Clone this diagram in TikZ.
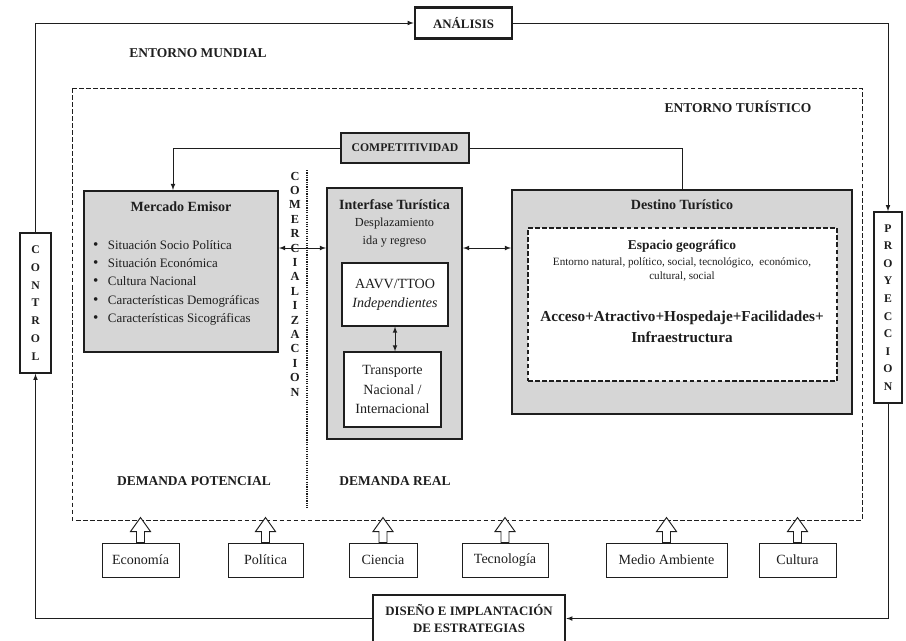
\documentclass[tikz,border=0pt]{standalone}
\usepackage{fontspec}
\setmainfont{Liberation Serif}
\definecolor{panelgray}{RGB}{214,214,214}
\definecolor{ink}{RGB}{30,30,30}
\newcommand{\bul}{{\fontsize{13}{13}\selectfont\textbullet}\hspace{8pt}}
\begin{document}
\begin{tikzpicture}[x=0.03cm, y=-0.03cm, >=latex, draw=ink, text=ink,
	lbl/.style={font=\fontsize{11.5}{13}\selectfont\bfseries, inner sep=0pt},
	ttl/.style={font=\fontsize{12}{14}\selectfont\bfseries, inner sep=0pt},
	frame/.style={draw, line width=2.2pt, fill=white, inner sep=0pt, align=center},
	vbox/.style={draw, line width=1.4pt, fill=white, inner sep=0pt, align=center, font=\fontsize{10}{15.2}\selectfont\bfseries},
	panel/.style={draw, line width=1.7pt, fill=panelgray, inner sep=0pt},
	wbox/.style={draw, line width=1.1pt, fill=white, inner sep=0pt, align=center, font=\fontsize{12}{16.4}\selectfont},
	fbox/.style={draw, line width=0.8pt, fill=white, inner sep=0pt, minimum height=1.02cm, font=\fontsize{12}{14}\selectfont},
	longdash/.style={dash pattern=on 4pt off 2pt},
	link/.style={line width=0.8pt}]
	\useasboundingbox (0,0) rectangle (906,640);
	
	%Kreislauf aussen
	\node[frame, font=\fontsize{11}{13}\selectfont\bfseries, minimum width=2.91cm, minimum height=0.93cm] (analisis) at (463.5,23) {ANÁLISIS};
	\node[vbox, minimum width=0.93cm, minimum height=4.2cm] (control) at (35.5,303) {C\\O\\N\\T\\R\\O\\L};
	\node[vbox, minimum width=0.84cm, minimum height=5.73cm, font=\fontsize{10}{15}\selectfont\bfseries] (proyeccion) at (888,307.5) {P\\R\\O\\Y\\E\\C\\C\\I\\O\\N};
	\node[frame, font=\fontsize{11}{14.5}\selectfont\bfseries, minimum width=5.76cm, minimum height=1.41cm] (diseno) at (469,618.5) {DISEÑO E IMPLANTACIÓN\\DE ESTRATEGIAS};
	
	\draw[link, ->] (control.north) |- (analisis.west);
	\draw[link, ->] (analisis.east) -| (proyeccion.north);
	\draw[link, ->] (proyeccion.south) |- (diseno.east);
	\draw[link, ->] (diseno.west) -| (control.south);
	
	\node[lbl] (mundial) at (198,53) {ENTORNO MUNDIAL};
	
	%Entorno turistico
	\draw[line width=0.8pt, longdash] (72,88) rectangle (862,520);
	\node[lbl] (turistico) at (738,107) {ENTORNO TURÍSTICO};
	
	\node[panel, line width=2pt, minimum width=3.84cm, minimum height=0.9cm, font=\fontsize{10}{12}\selectfont\bfseries] (competitividad) at (405,148) {COMPETITIVIDAD};
	
	\node[panel, minimum width=5.82cm, minimum height=4.83cm] (mercado) at (181,271.5) {};
	\node[panel, minimum width=4.05cm, minimum height=7.53cm] (interfase) at (394.5,313.5) {};
	\node[panel, minimum width=10.2cm, minimum height=6.72cm] (destino) at (682,302) {};
	
	\draw[link, ->] (competitividad.west) -| ([xshift=-0.24cm]mercado.north);
	\draw[link] (competitividad.east) -| (destino.north);
	
	%Mercado Emisor
	\node[ttl] (mtitle) at (181,207) {Mercado Emisor};
	\node[anchor=north west, inner sep=0pt, align=left, font=\fontsize{11}{15.7}\selectfont] (mlist) at (93,240) {%
		\bul Situación Socio Política\\
		\bul Situación Económica\\
		\bul Cultura Nacional\\
		\bul Características Demográficas\\
		\bul Características Sicográficas};
	
	%Comercializacion
	\draw[line width=1pt, densely dotted] (307,170) -- (307,508);
	\node[inner sep=0pt, align=center, font=\fontsize{10.5}{12.3}\selectfont\bfseries] (comer) at (295,284) {C\\O\\M\\E\\R\\C\\I\\A\\L\\I\\Z\\A\\C\\I\\O\\N};
	
	%Interfase
	\node[ttl] (ititle) at (394.5,205) {Interfase Turística};
	\node[inner sep=0pt, align=center, font=\fontsize{10.5}{15.3}\selectfont] (isub) at (394.5,233) {Desplazamiento\\ida y regreso};
	\node[wbox, minimum width=3.18cm, minimum height=1.89cm] (aavv) at (395,294.5) {AAVV/TTOO\\\textit{Independientes}};
	\node[wbox, minimum width=2.91cm, minimum height=2.25cm] (transporte) at (392.5,389.5) {Transporte\\Nacional /\\Internacional};
	\draw[link, <->] (aavv.south) -- (aavv.south |- transporte.north);
	
	%Destino
	\node[ttl] (dtitle) at (682,205) {Destino Turístico};
	\node[draw, longdash, line width=0.9pt, fill=white, minimum width=9.27cm, minimum height=4.59cm] (espacio) at (682.5,304.5) {};
	\node[inner sep=0pt, font=\fontsize{11.5}{13}\selectfont\bfseries] (egeo) at (682,246) {Espacio geográfico};
	\node[inner sep=0pt, align=center, font=\fontsize{9.5}{12.7}\selectfont] (eenv) at (682,269.5) {Entorno natural, político, social, tecnológico,\ \ económico,\\cultural, social};
	\node[inner sep=0pt, align=center, font=\fontsize{13}{17.9}\selectfont\bfseries] (eacc) at (682,326.5) {Acceso+Atractivo+Hospedaje+Facilidades+\\Infraestructura};
	
	\coordinate (arrowy) at (0,248);
	\draw[link, <->] (mercado.east |- arrowy) -- (interfase.west |- arrowy);
	\draw[link, <->] (interfase.east |- arrowy) -- (destino.west |- arrowy);
	
	\node[lbl] (dpot) at (194,481) {DEMANDA POTENCIAL};
	\node[lbl] (dreal) at (395,481) {DEMANDA REAL};
	
	%Factores
	\node[fbox, minimum width=2.31cm] (eco) at (140.5,560) {Economía};
	\node[fbox, minimum width=2.25cm] (pol) at (265.5,560) {Política};
	\node[fbox, minimum width=2.04cm] (cie) at (383,560) {Ciencia};
	\node[fbox, minimum width=2.58cm] (tec) at (505,560) {Tecnología};
	\node[fbox, minimum width=3.63cm] (med) at (666.5,560) {Medio Ambiente};
	\node[fbox, minimum width=2.31cm] (cul) at (797.5,560) {Cultura};
	\foreach \b in {eco,pol,cie,tec,med,cul}
		\draw[line width=0.8pt, fill=white] ([xshift=-0.12cm]\b.north) -- ++(0,-11) -- ++(-6,0) -- ++(10,-14) -- ++(10,14) -- ++(-6,0) -- ++(0,11) -- cycle;
\end{tikzpicture}
\end{document}
